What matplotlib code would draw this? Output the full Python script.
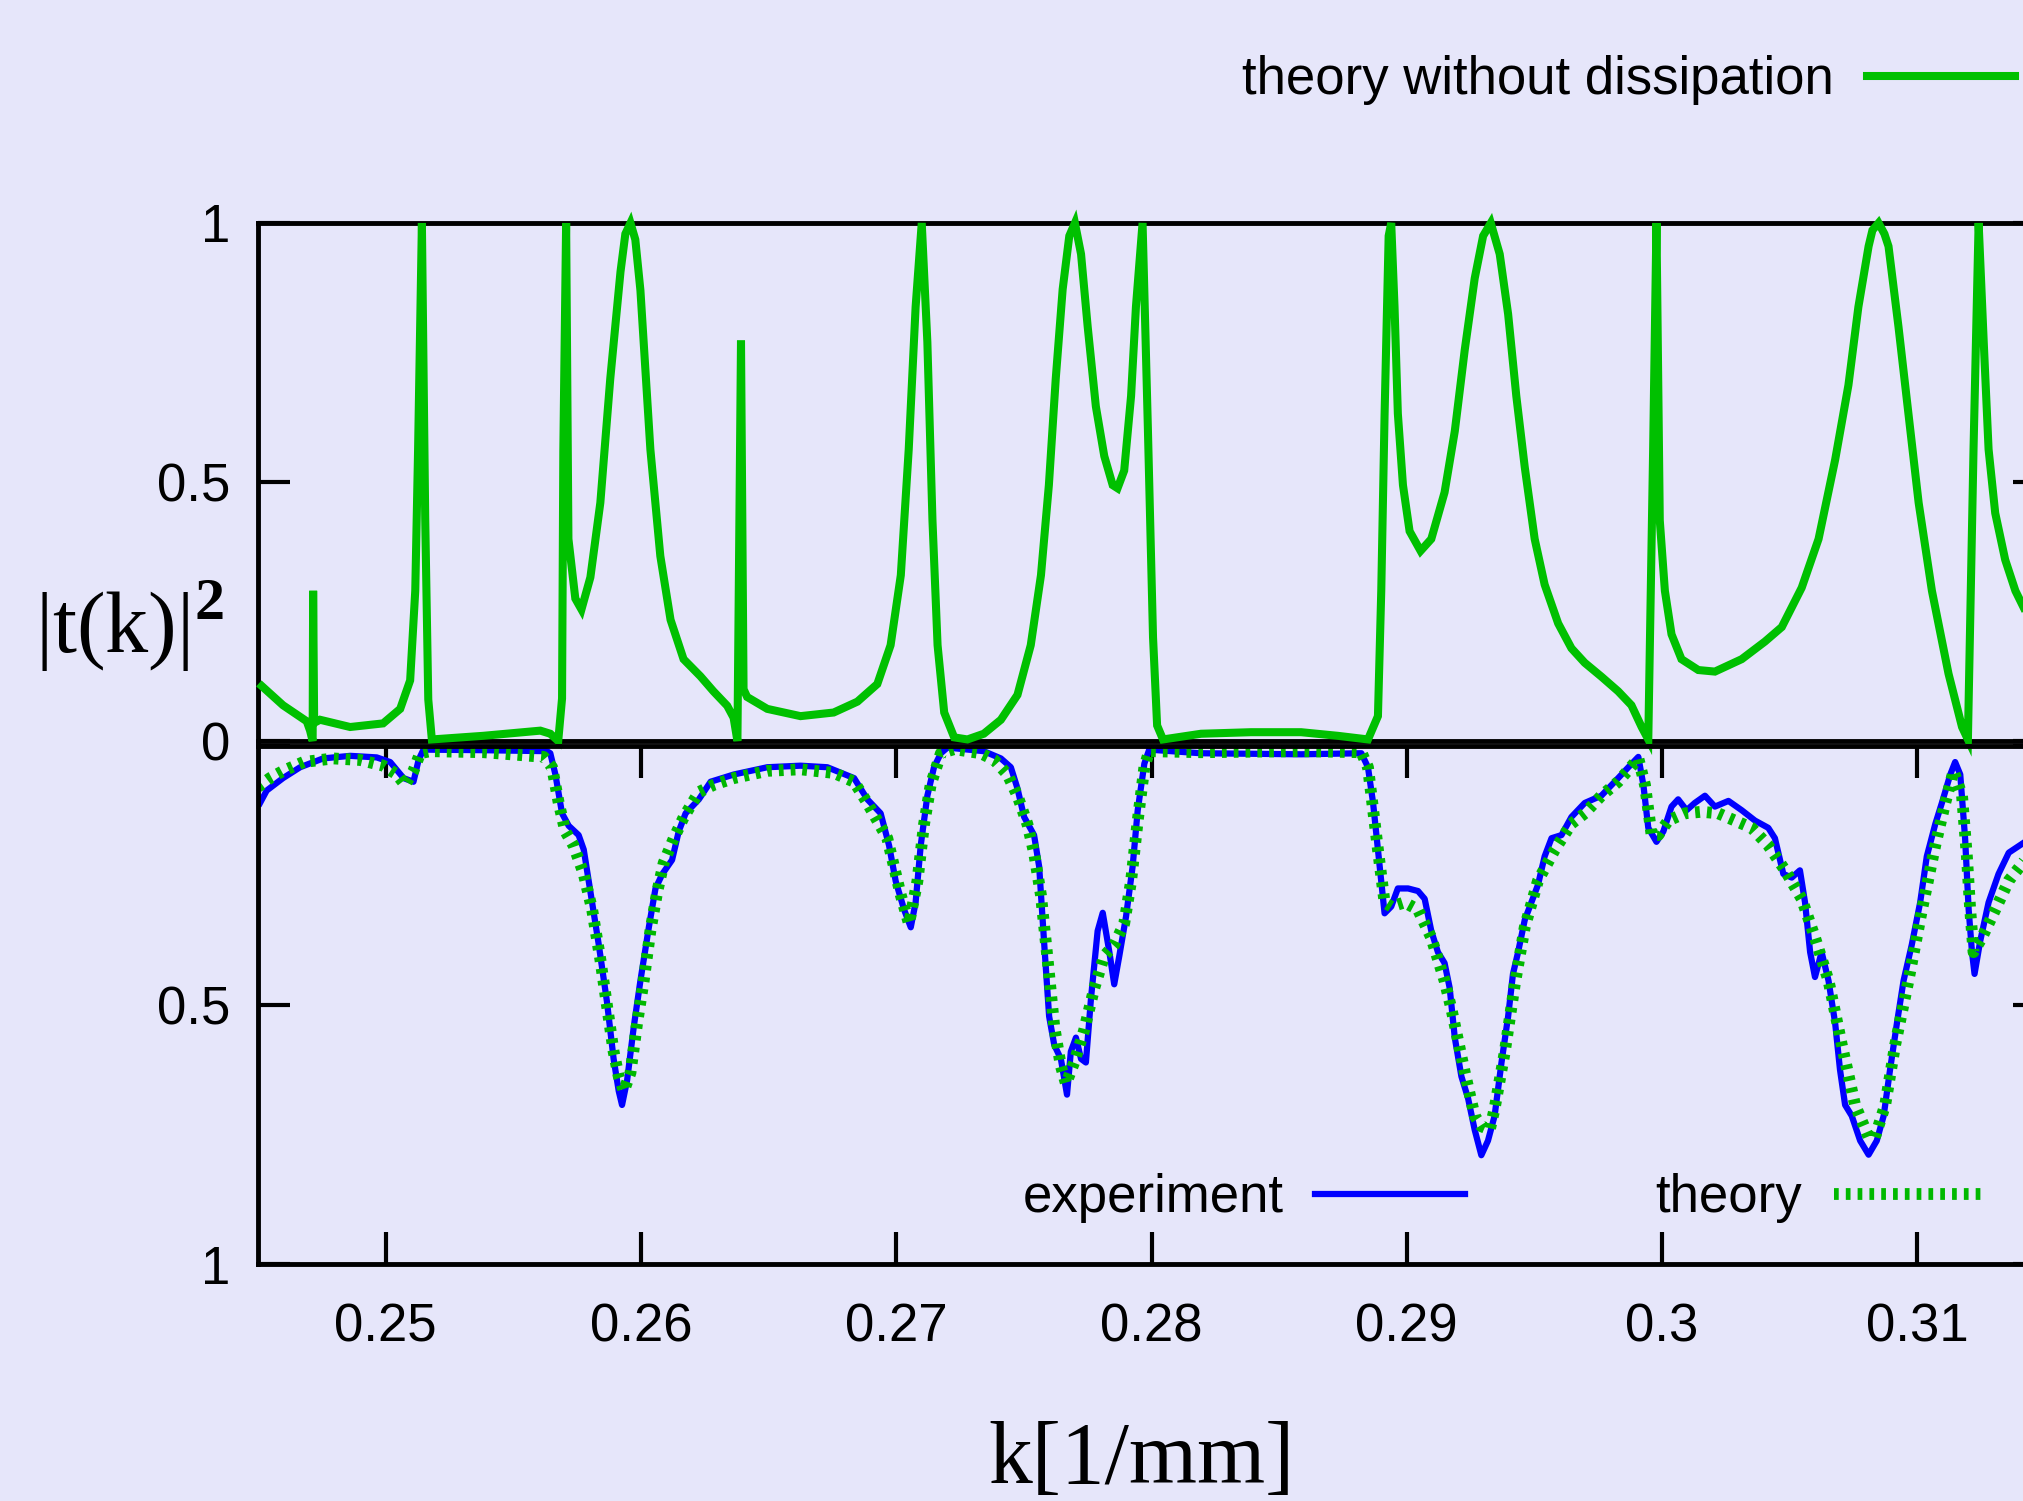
import numpy as np
import matplotlib.pyplot as plt
from matplotlib import font_manager


def first_font(names):
    # 取第一个已安装的字体
    for n in names:
        try:
            font_manager.findfont(font_manager.FontProperties(family=n), fallback_to_default=False)
            return n
        except ValueError:
            pass
    return 'DejaVu Sans'


sans = first_font(['Liberation Sans Narrow', 'Liberation Sans'])
serif = first_font(['Liberation Serif', 'DejaVu Serif'])

plt.rcParams['font.family'] = sans
plt.rcParams['mathtext.fontset'] = 'custom'
plt.rcParams['mathtext.rm'] = serif
plt.rcParams['mathtext.bf'] = serif + ':bold'

# theory without dissipation  (k [1/mm], |t|^2)
free_pts = [
    (0.24515, 0.106), (0.24598, 0.069), (0.24691, 0.038), (0.24704, 0.020), (0.24714, 0.000),
    (0.24716, 0.290), (0.24720, 0.035), (0.24743, 0.041), (0.24861, 0.027), (0.24990, 0.034),
    (0.25057, 0.062), (0.25096, 0.117), (0.25116, 0.290), (0.25127, 0.560), (0.25142, 1.000),
    (0.25155, 0.430), (0.25167, 0.080), (0.25181, 0.003), (0.25382, 0.010), (0.25606, 0.020),
    (0.25645, 0.014), (0.25676, 0.000), (0.25691, 0.082), (0.25696, 0.560), (0.25707, 1.000),
    (0.25716, 0.390), (0.25743, 0.275), (0.25767, 0.254), (0.25802, 0.316), (0.25841, 0.460),
    (0.25880, 0.700), (0.25920, 0.906), (0.25939, 0.979), (0.25959, 1.000), (0.25978, 0.968),
    (0.25998, 0.870), (0.26037, 0.563),
    (0.26076, 0.357), (0.26116, 0.234), (0.26167, 0.158), (0.26233, 0.125), (0.26284, 0.096),
    (0.26338, 0.068), (0.26363, 0.045), (0.26378, 0.000), (0.26392, 0.773), (0.26402, 0.100),
    (0.26416, 0.085), (0.26495, 0.062), (0.26625, 0.048), (0.26755, 0.055), (0.26848, 0.076),
    (0.26926, 0.110), (0.26978, 0.185), (0.27018, 0.320), (0.27049, 0.563), (0.27076, 0.838),
    (0.27100, 1.000), (0.27122, 0.770), (0.27142, 0.426), (0.27162, 0.185), (0.27188, 0.055),
    (0.27227, 0.007), (0.27279, 0.003), (0.27343, 0.014), (0.27410, 0.041), (0.27475, 0.089),
    (0.27527, 0.185), (0.27567, 0.320), (0.27598, 0.494), (0.27625, 0.700), (0.27652, 0.872),
    (0.27678, 0.975), (0.27700, 1.000), (0.27724, 0.940), (0.27750, 0.800), (0.27782, 0.646),
    (0.27815, 0.550), (0.27848, 0.494), (0.27867, 0.488), (0.27893, 0.522), (0.27920, 0.666),
    (0.27939, 0.838), (0.27965, 1.000), (0.27986, 0.600), (0.28006, 0.200), (0.28022, 0.030),
    (0.28045, 0.003), (0.28194, 0.014), (0.28390, 0.017), (0.28586, 0.017), (0.28730, 0.010),
    (0.28848, 0.003), (0.28887, 0.048), (0.28900, 0.290), (0.28913, 0.630), (0.28929, 0.975),
    (0.28939, 1.000), (0.28952, 0.838), (0.28965, 0.632), (0.28985, 0.494), (0.29011, 0.405),
    (0.29054, 0.367), (0.29096, 0.390), (0.29148, 0.480), (0.29188, 0.598), (0.29227, 0.755),
    (0.29266, 0.893), (0.29299, 0.975), (0.29329, 1.000), (0.29364, 0.940), (0.29397, 0.824),
    (0.29429, 0.666), (0.29462, 0.529), (0.29501, 0.390), (0.29540, 0.302), (0.29593, 0.227),
    (0.29645, 0.179), (0.29697, 0.151), (0.29763, 0.124), (0.29828, 0.096), (0.29880, 0.069),
    (0.29920, 0.027), (0.29946, 0.003), (0.29965, 0.563), (0.29978, 1.000), (0.29991, 0.426),
    (0.30011, 0.290), (0.30037, 0.206), (0.30076, 0.158), (0.30142, 0.137), (0.30207, 0.134),
    (0.30312, 0.158), (0.30403, 0.192), (0.30469, 0.220), (0.30547, 0.296), (0.30613, 0.390),
    (0.30678, 0.543), (0.30730, 0.687), (0.30769, 0.838), (0.30809, 0.955), (0.30824, 0.986),
    (0.30848, 1.000), (0.30871, 0.979),
    (0.30887, 0.955), (0.30926, 0.800), (0.30965, 0.632), (0.31005, 0.460), (0.31057, 0.290),
    (0.31122, 0.130), (0.31175, 0.027), (0.31198, 0.003), (0.31220, 0.563), (0.31240, 1.000),
    (0.31260, 0.770), (0.31279, 0.563), (0.31305, 0.440), (0.31344, 0.350), (0.31384, 0.290),
    (0.31416, 0.258),
]

# experiment
exp_pts = [
    (0.24508, 0.110), (0.24534, 0.086), (0.24598, 0.062), (0.24665, 0.041), (0.24755, 0.024),
    (0.24861, 0.019), (0.24965, 0.022), (0.25018, 0.031), (0.25070, 0.062), (0.25109, 0.069),
    (0.25129, 0.027), (0.25148, 0.007), (0.25371, 0.008), (0.25632, 0.010), (0.25645, 0.014),
    (0.25665, 0.055), (0.25691, 0.130), (0.25717, 0.154), (0.25756, 0.172), (0.25776, 0.200),
    (0.25802, 0.281), (0.25835, 0.384), (0.25867, 0.494), (0.25893, 0.604), (0.25913, 0.666),
    (0.25926, 0.693), (0.25946, 0.645), (0.25972, 0.542), (0.25998, 0.453), (0.26031, 0.350),
    (0.26057, 0.275), (0.26084, 0.247), (0.26122, 0.220), (0.26148, 0.165), (0.26175, 0.130),
    (0.26227, 0.103), (0.26273, 0.069), (0.26364, 0.055), (0.26495, 0.041), (0.26625, 0.038),
    (0.26730, 0.041), (0.26835, 0.062), (0.26887, 0.103), (0.26939, 0.130), (0.26972, 0.192),
    (0.26998, 0.261), (0.27031, 0.316), (0.27057, 0.350), (0.27076, 0.302), (0.27096, 0.192),
    (0.27122, 0.096), (0.27148, 0.041), (0.27175, 0.014), (0.27201, 0.003), (0.27343, 0.010),
    (0.27410, 0.024), (0.27449, 0.041), (0.27475, 0.082), (0.27501, 0.137), (0.27540, 0.172),
    (0.27560, 0.233), (0.27580, 0.384), (0.27599, 0.522), (0.27619, 0.577), (0.27645, 0.604),
    (0.27669, 0.673), (0.27684, 0.590), (0.27704, 0.563), (0.27724, 0.604), (0.27743, 0.611),
    (0.27763, 0.487), (0.27789, 0.357), (0.27809, 0.322), (0.27835, 0.398), (0.27854, 0.460),
    (0.27874, 0.405), (0.27900, 0.330), (0.27926, 0.233), (0.27946, 0.124), (0.27972, 0.034),
    (0.27991, 0.007), (0.28194, 0.014), (0.28586, 0.016), (0.28822, 0.014), (0.28848, 0.041),
    (0.28868, 0.110), (0.28887, 0.200), (0.28900, 0.260), (0.28913, 0.323), (0.28939, 0.310),
    (0.28965, 0.275), (0.29005, 0.275), (0.29044, 0.280), (0.29070, 0.295), (0.29096, 0.357),
    (0.29122, 0.398), (0.29148, 0.419), (0.29168, 0.467), (0.29188, 0.563), (0.29214, 0.638),
    (0.29240, 0.680), (0.29266, 0.741), (0.29292, 0.790), (0.29318, 0.762), (0.29344, 0.714),
    (0.29371, 0.611), (0.29397, 0.522), (0.29416, 0.440), (0.29436, 0.398), (0.29462, 0.336),
    (0.29488, 0.302), (0.29514, 0.268), (0.29540, 0.213), (0.29567, 0.178), (0.29606, 0.172),
    (0.29645, 0.137), (0.29697, 0.110), (0.29762, 0.096), (0.29828, 0.062), (0.29868, 0.041),
    (0.29907, 0.021), (0.29927, 0.076), (0.29946, 0.158), (0.29978, 0.185), (0.30005, 0.165),
    (0.30037, 0.117), (0.30063, 0.103), (0.30096, 0.124), (0.30128, 0.110), (0.30168, 0.096),
    (0.30207, 0.117), (0.30260, 0.106), (0.30312, 0.124), (0.30364, 0.144), (0.30416, 0.158),
    (0.30442, 0.178), (0.30475, 0.247), (0.30508, 0.254), (0.30540, 0.240), (0.30560, 0.302),
    (0.30580, 0.398), (0.30599, 0.446), (0.30625, 0.398), (0.30652, 0.453), (0.30678, 0.535),
    (0.30697, 0.625), (0.30717, 0.693), (0.30743, 0.714), (0.30776, 0.762), (0.30809, 0.789),
    (0.30841, 0.762), (0.30868, 0.714), (0.30893, 0.625), (0.30920, 0.535), (0.30946, 0.453),
    (0.30978, 0.384), (0.31011, 0.302), (0.31037, 0.213), (0.31070, 0.151), (0.31096, 0.110),
    (0.31129, 0.055), (0.31148, 0.031), (0.31168, 0.055), (0.31187, 0.178), (0.31201, 0.316),
    (0.31214, 0.398), (0.31224, 0.440), (0.31246, 0.377), (0.31279, 0.302), (0.31318, 0.247),
    (0.31358, 0.206), (0.31422, 0.185),
]

# theory (with dissipation)
th_pts = [
    (0.24500, 0.079), (0.24547, 0.062), (0.24599, 0.048), (0.24678, 0.031), (0.24795, 0.024),
    (0.24900, 0.027), (0.24991, 0.038), (0.25044, 0.055), (0.25076, 0.075), (0.25109, 0.048),
    (0.25135, 0.014), (0.25175, 0.010), (0.25384, 0.012), (0.25619, 0.021), (0.25652, 0.041),
    (0.25678, 0.110), (0.25704, 0.165), (0.25736, 0.192), (0.25776, 0.247), (0.25809, 0.316),
    (0.25841, 0.412), (0.25867, 0.501), (0.25893, 0.590), (0.25913, 0.638), (0.25933, 0.666),
    (0.25959, 0.631), (0.25985, 0.535), (0.26011, 0.453), (0.26037, 0.357), (0.26064, 0.281),
    (0.26089, 0.226), (0.26129, 0.178), (0.26168, 0.137), (0.26227, 0.089), (0.26285, 0.075),
    (0.26364, 0.062), (0.26495, 0.048), (0.26625, 0.045), (0.26756, 0.052), (0.26835, 0.069),
    (0.26887, 0.110), (0.26965, 0.178), (0.27018, 0.288), (0.27050, 0.343), (0.27083, 0.261),
    (0.27109, 0.151), (0.27135, 0.075), (0.27175, 0.014), (0.27227, 0.006), (0.27331, 0.014),
    (0.27384, 0.027), (0.27436, 0.055), (0.27475, 0.096), (0.27514, 0.151), (0.27540, 0.206),
    (0.27567, 0.288), (0.27593, 0.412), (0.27619, 0.542), (0.27645, 0.618), (0.27665, 0.652),
    (0.27697, 0.611), (0.27736, 0.549), (0.27776, 0.467), (0.27815, 0.405), (0.27854, 0.384),
    (0.27893, 0.343), (0.27920, 0.261), (0.27946, 0.144), (0.27972, 0.041), (0.27991, 0.010),
    (0.28194, 0.012), (0.28586, 0.010), (0.28822, 0.012), (0.28848, 0.041), (0.28887, 0.200),
    (0.28913, 0.302), (0.28939, 0.310), (0.28991, 0.302), (0.29044, 0.316), (0.29096, 0.370),
    (0.29148, 0.453), (0.29175, 0.508), (0.29227, 0.630), (0.29266, 0.714), (0.29292, 0.734),
    (0.29325, 0.741), (0.29344, 0.700), (0.29384, 0.590), (0.29423, 0.460), (0.29462, 0.350),
    (0.29514, 0.260), (0.29580, 0.200), (0.29645, 0.150), (0.29697, 0.130), (0.29762, 0.096),
    (0.29828, 0.069), (0.29907, 0.024), (0.29933, 0.075), (0.29959, 0.172), (0.29985, 0.172),
    (0.30024, 0.144), (0.30089, 0.130), (0.30155, 0.127), (0.30220, 0.130), (0.30285, 0.144),
    (0.30351, 0.158), (0.30416, 0.192), (0.30482, 0.240), (0.30547, 0.295), (0.30599, 0.370),
    (0.30652, 0.453), (0.30704, 0.577), (0.30756, 0.693), (0.30809, 0.755), (0.30834, 0.755),
    (0.30874, 0.693), (0.30913, 0.577), (0.30965, 0.453), (0.31018, 0.316), (0.31070, 0.192),
    (0.31109, 0.110), (0.31142, 0.048), (0.31175, 0.096), (0.31194, 0.213), (0.31207, 0.316),
    (0.31220, 0.398), (0.31253, 0.370), (0.31305, 0.316), (0.31358, 0.260), (0.31422, 0.220),
]

k_free, t_free = np.array(free_pts).T
k_exp, t_exp = np.array(exp_pts).T
k_th, t_th = np.array(th_pts).T

x_ticks = [0.25, 0.26, 0.27, 0.28, 0.29, 0.30, 0.31]
x_ticklabels = ['0.25', '0.26', '0.27', '0.28', '0.29', '0.3', '0.31']

bg = '#E6E6FA'
W, H = 2023, 1501
fig = plt.figure(figsize=(W / 100, H / 100), dpi=100, facecolor=bg)

# 上下两个面板（右边框在画布外）
ax1 = fig.add_axes([258 / W, 1 - 741 / H, 1787 / W, 518 / H])
ax2 = fig.add_axes([258 / W, 1 - 1264 / H, 1787 / W, 518 / H])

for ax in (ax1, ax2):
    ax.set_facecolor('none')
    ax.set_xlim(0.245, 0.315)
    for s in ax.spines.values():
        s.set_linewidth(3.5)

fs = 38
em = fs * 100 / 72  # 字号对应的像素

# upper panel: 尖峰用 miter 连接，略超出上边框
l_free, = ax1.plot(k_free, t_free, color='#00C000', lw=5.8, zorder=3,
                   solid_joinstyle='miter', clip_on=False)
ax1.set_ylim(0, 1)
ax1.set_yticks([0, 0.5, 1])
ax1.set_yticklabels(['0', '0.5', '1'])
ax1.tick_params(axis='y', direction='in', left=True, right=True, length=23, width=3,
                labelsize=fs, pad=20)
ax1.tick_params(axis='x', bottom=False, top=False, labelbottom=False)

# lower panel (inverted)
l_exp, = ax2.plot(k_exp, t_exp, color='#0000FF', lw=4.5)
l_th, = ax2.plot(k_th, t_th, color='#00B800', lw=8.5, linestyle=(0, (0.4, 0.6)))
ax2.set_ylim(1, 0)
ax2.set_yticks([0, 0.5, 1])
ax2.set_yticklabels(['', '0.5', '1'])
ax2.set_xticks(x_ticks)
ax2.set_xticklabels(x_ticklabels)
ax2.tick_params(axis='y', direction='in', left=True, right=True, length=23, width=3,
                labelsize=fs, pad=20)
ax2.tick_params(axis='x', direction='in', bottom=True, top=True, length=23, width=3,
                labelsize=fs, pad=28)

# legends
fig.legend([l_free], ['theory without dissipation'], loc='center right',
           bbox_to_anchor=(2015 / W, 1 - 80 / H), frameon=False, markerfirst=False,
           handlelength=148 / em, handletextpad=33 / em, borderpad=0, borderaxespad=0,
           fontsize=fs)
fig.legend([l_exp, l_th], ['experiment', 'theory'], loc='center right', ncol=2,
           bbox_to_anchor=(1984 / W, 1 - 1198 / H), frameon=False, markerfirst=False,
           handlelength=150 / em, handletextpad=32 / em, columnspacing=190 / em,
           borderpad=0, borderaxespad=0, fontsize=fs)

# axis labels
fig.text(35 / W, 1 - 626 / H, r'$\mathrm{|t(k)|}^{\mathbf{2}}$', fontsize=62,
         ha='left', va='center')
fig.text(1141 / W, 18 / H, 'k[1/mm]', family=serif, fontsize=63, ha='center', va='baseline')

fig.savefig('out.png', dpi=100, facecolor=bg)
